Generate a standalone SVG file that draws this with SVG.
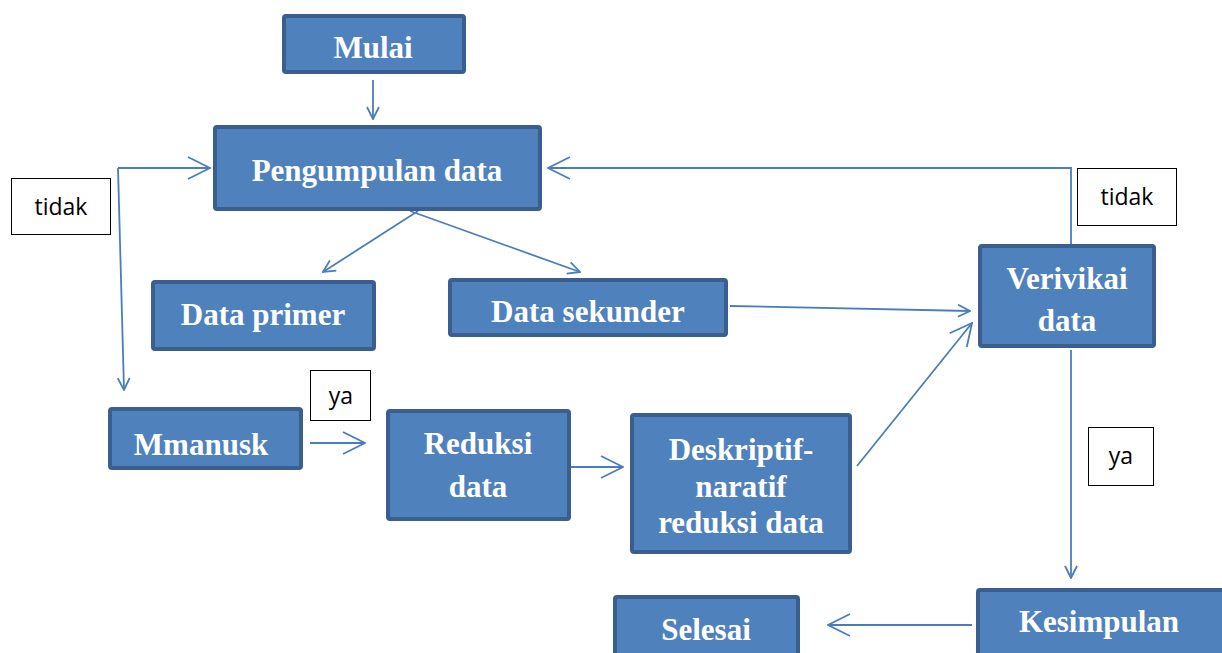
<svg xmlns="http://www.w3.org/2000/svg" width="1222" height="653" viewBox="0 0 1222 653">
<style>
.box{fill:#4F81BD;stroke:#3A5F8F;stroke-width:4}
.t{font-family:"Liberation Serif",serif;font-weight:bold;font-size:31px;fill:#fff;text-anchor:middle}
.lb{fill:#fff;stroke:#000;stroke-width:1}
.lt{font-family:"Open Sans","Liberation Sans",sans-serif;font-size:23px;fill:#000;text-anchor:middle}
.c{fill:none;stroke:#4A7EBB;stroke-width:1.8}
</style>
<defs>
<marker id="a" viewBox="0 0 14 14" refX="13" refY="7" markerWidth="14" markerHeight="14" markerUnits="userSpaceOnUse" orient="auto">
<path d="M1,1 L13,7 L1,13" fill="none" stroke="#4A7EBB" stroke-width="1.8"/>
</marker>
<marker id="b" viewBox="0 0 24 24" refX="23" refY="12" markerWidth="24" markerHeight="24" markerUnits="userSpaceOnUse" orient="auto">
<path d="M1,1 L23,12 L1,23" fill="none" stroke="#4A7EBB" stroke-width="1.8"/>
</marker>
</defs>
<rect width="1222" height="653" fill="#fff"/>
<g id="connectors">
<line class="c" x1="373" y1="80" x2="373" y2="119" marker-end="url(#a)"/>
<polyline class="c" points="118,168 210,168" marker-end="url(#b)"/>
<line class="c" x1="118" y1="168" x2="124" y2="390" marker-end="url(#a)"/>
<line class="c" x1="418" y1="211" x2="323" y2="272" marker-end="url(#a)"/>
<line class="c" x1="410" y1="211" x2="580" y2="272" marker-end="url(#a)"/>
<line class="c" x1="730" y1="306" x2="970" y2="311" marker-end="url(#a)"/>
<polyline class="c" points="1071,244 1071,168 548,168" marker-end="url(#b)"/>
<line class="c" x1="310" y1="443" x2="365" y2="443" marker-end="url(#b)"/>
<line class="c" x1="571" y1="467" x2="623" y2="467" marker-end="url(#b)"/>
<line class="c" x1="857" y1="466" x2="972" y2="323" marker-end="url(#b)"/>
<line class="c" x1="1071" y1="350" x2="1071" y2="578" marker-end="url(#a)"/>
<line class="c" x1="972" y1="625" x2="828" y2="625" marker-end="url(#b)"/>
</g>
<g id="mulai"><rect class="box" x="284" y="16" width="180" height="56" rx="2"/><text class="t" x="373" y="58">Mulai</text></g>
<g id="pengumpulan"><rect class="box" x="215" y="127" width="325" height="82" rx="2"/><text class="t" x="377" y="181">Pengumpulan data</text></g>
<g id="primer"><rect class="box" x="153" y="282" width="221" height="67" rx="2"/><text class="t" x="263" y="325">Data primer</text></g>
<g id="sekunder"><rect class="box" x="450" y="280" width="276" height="55" rx="2"/><text class="t" x="588" y="322">Data sekunder</text></g>
<g id="verivikai"><rect class="box" x="980" y="246" width="174" height="100" rx="2"/><text class="t" x="1067" y="289">Verivikai</text><text class="t" x="1067" y="331">data</text></g>
<g id="mmanusk"><rect class="box" x="110" y="409" width="191" height="59" rx="2"/><text class="t" x="201" y="455">Mmanusk</text></g>
<g id="reduksi"><rect class="box" x="388" y="411" width="181" height="108" rx="2"/><text class="t" x="478" y="454">Reduksi</text><text class="t" x="478" y="497">data</text></g>
<g id="deskriptif"><rect class="box" x="632" y="415" width="218" height="137" rx="2"/><text class="t" x="741" y="460">Deskriptif-</text><text class="t" x="741" y="497">naratif</text><text class="t" x="741" y="533">reduksi data</text></g>
<g id="kesimpulan"><rect class="box" x="978" y="590" width="250" height="80" rx="2"/><text class="t" x="1099" y="632">Kesimpulan</text></g>
<g id="selesai"><rect class="box" x="615" y="597" width="183" height="70" rx="2"/><text class="t" x="706" y="640">Selesai</text></g>
<g id="label-tidak-left"><rect class="lb" x="11.5" y="178.5" width="99" height="56"/><text class="lt" x="61" y="215">tidak</text></g>
<g id="label-tidak-right"><rect class="lb" x="1077.5" y="168.5" width="99" height="57"/><text class="lt" x="1127" y="205">tidak</text></g>
<g id="label-ya-left"><rect class="lb" x="310.5" y="370.5" width="60" height="50"/><text class="lt" x="341" y="404">ya</text></g>
<g id="label-ya-right"><rect class="lb" x="1088.5" y="427.5" width="65" height="58"/><text class="lt" x="1121" y="464">ya</text></g>
</svg>
